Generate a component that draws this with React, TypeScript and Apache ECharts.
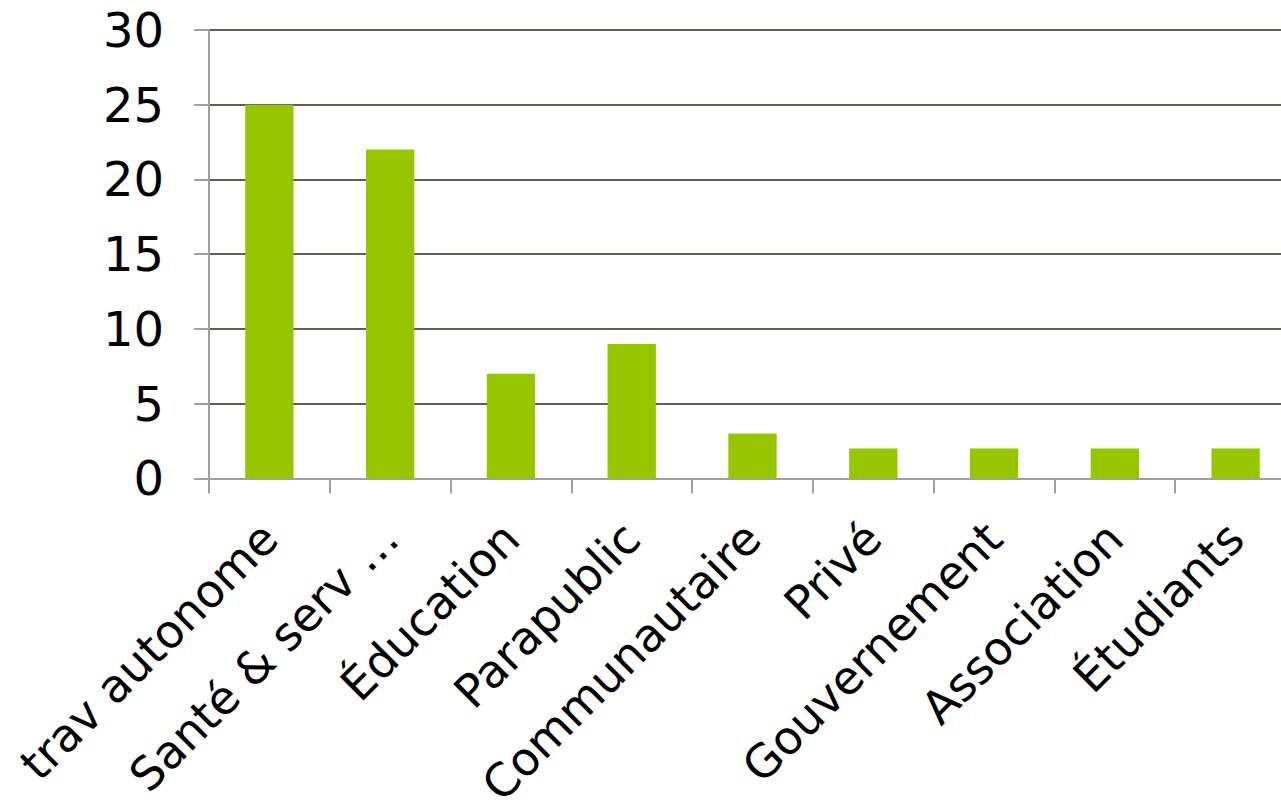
import React, { useEffect, useRef } from "react";
import * as echarts from "echarts";

const categories = [
  "trav autonome",
  "Santé & serv …",
  "Éducation",
  "Parapublic",
  "Communautaire",
  "Privé",
  "Gouvernement",
  "Association",
  "Étudiants",
];
const values = [25, 22, 7, 9, 3, 2, 2, 2, 2];
const yMin = 0;
const yMax = 30;
const yInterval = 5;

const FONT = "'DejaVu Sans', sans-serif";

export default function App() {
  const ref = useRef<HTMLDivElement>(null);
  useEffect(() => {
    if (!ref.current) return;
    const chart = echarts.init(ref.current, undefined, { renderer: "svg" });
    chart.setOption({
      animation: false,
      backgroundColor: "#ffffff",
      grid: { left: 209, right: 0, top: 30, bottom: 330, containLabel: false },
      xAxis: {
        type: "category",
        data: categories,
        boundaryGap: true,
        axisLine: { show: true, lineStyle: { color: "#a0a0a0", width: 2 } },
        axisTick: { show: true, alignWithLabel: false, length: 15, lineStyle: { color: "#a0a0a0", width: 2 } },
        axisLabel: {
          interval: 0,
          rotate: 45,
          margin: 52,
          color: "#000000",
          fontFamily: FONT,
          fontSize: 46,
        },
        splitLine: { show: false },
      },
      yAxis: {
        type: "value",
        min: yMin,
        max: yMax,
        interval: yInterval,
        axisLine: { show: true, lineStyle: { color: "#a0a0a0", width: 2 } },
        axisTick: { show: true, length: 15, lineStyle: { color: "#a0a0a0", width: 2 } },
        axisLabel: {
          margin: 45,
          color: "#000000",
          fontFamily: FONT,
          fontSize: 48,
        },
        splitLine: { show: true, lineStyle: { color: "#5e5e56", width: 2 } },
      },
      series: [
        {
          type: "bar",
          data: values,
          barWidth: "40%",
          itemStyle: { color: "#96c600" },
        },
      ],
    });
    return () => chart.dispose();
  }, []);
  return (
    <div
      ref={ref}
      style={{ position: "fixed", left: 0, top: 0, width: 1296, height: 811 }}
    />
  );
}
